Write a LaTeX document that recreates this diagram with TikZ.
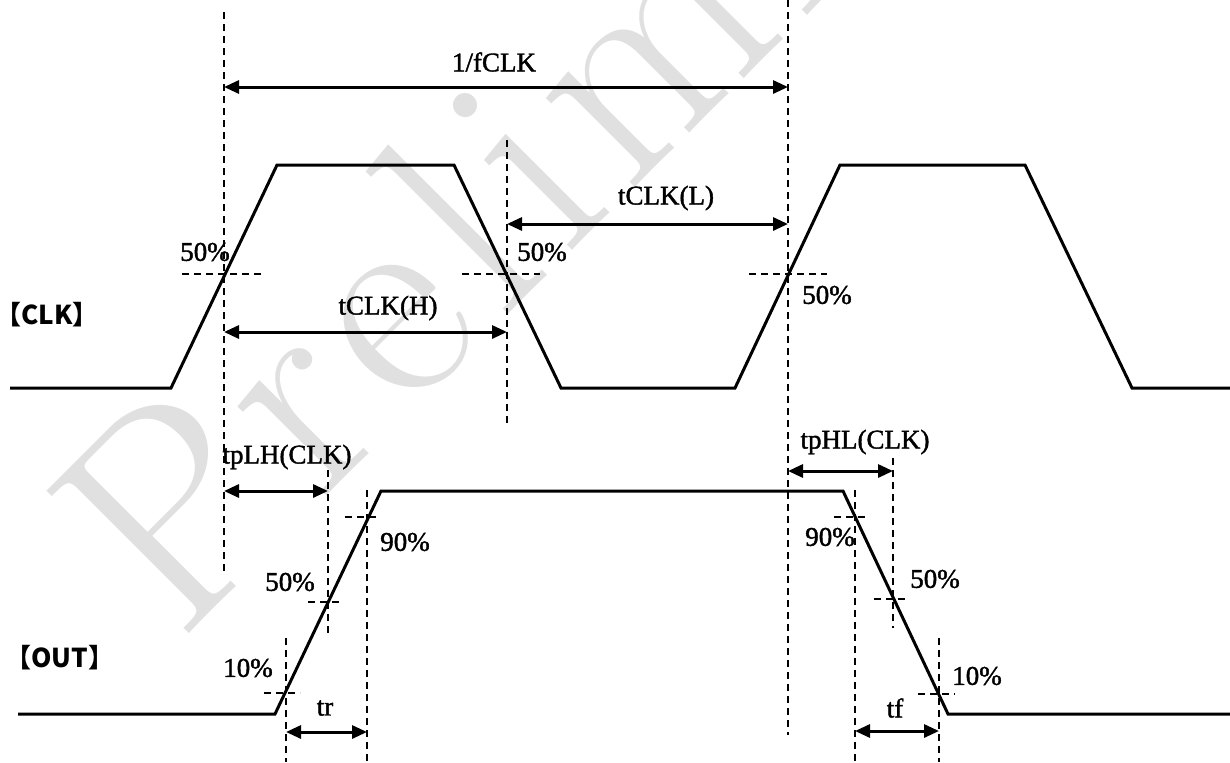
\documentclass[tikz,border=0pt]{standalone}
\usepackage{fontspec}
\usetikzlibrary{arrows.meta}
\newfontfamily\cjkfont{Noto Sans CJK JP}
\newfontfamily\lblfont{Liberation Serif}[FakeBold=1.5]
\newfontfamily\wmfont{Latin Modern Roman}
\definecolor{wmgray}{HTML}{E0E0E0}
\newcommand{\wg}{\kern8pt}
\begin{document}
\begin{tikzpicture}[x=0.5pt,y=-0.5pt,
  wave/.style={line width=1.5pt, line join=miter},
  guide/.style={line width=0.7pt, dash pattern=on 3.5pt off 2.5pt},
  tipa/.tip={Triangle[length=7.5pt,width=6.5pt]},
  dimboth/.style={line width=1.5pt, tipa-tipa},
  lbl/.style={font=\lblfont\fontsize{13.5}{15}\selectfont, inner sep=0pt},
  sig/.style={font=\cjkfont\bfseries\fontsize{13}{15}\selectfont, inner sep=0pt},
  wm/.style={font=\wmfont\fontsize{147.5}{150}\selectfont, text=wmgray, inner sep=0pt}
]
\useasboundingbox (0,0) rectangle (1230,762);
% watermark
\begin{scope}
\clip (0,0) rectangle (1230,762);
\node[wm, rotate=45, anchor=base west] (wmark) at (178,645)
  {P\wg r\wg e\wg l\wg i\wg m\wg i\wg n\wg a\wg r\wg y};
\end{scope}

% CLK waveform
\coordinate (c0) at (10,388);
\coordinate (c1) at (171,388);
\coordinate (c2) at (277,165);
\coordinate (c3) at (454,165);
\coordinate (c4) at (561,388);
\coordinate (c5) at (735,388);
\coordinate (c6) at (840,165);
\coordinate (c7) at (1025,165);
\coordinate (c8) at (1132,388);
\coordinate (c9) at (1230,388);
\draw[wave] (c0) -- (c1) -- (c2) -- (c3) -- (c4) -- (c5) -- (c6) -- (c7) -- (c8) -- (c9);

% OUT waveform
\coordinate (o0) at (18,714);
\coordinate (o1) at (275,714);
\coordinate (o2) at (381,491);
\coordinate (o3) at (843,491);
\coordinate (o4) at (948,714);
\coordinate (o5) at (1230,714);
\draw[wave] (o0) -- (o1) -- (o2) -- (o3) -- (o4) -- (o5);

% CLK guides
\coordinate (v1t) at (224,12);  \coordinate (v1b) at (224,575);
\coordinate (v2t) at (507,140); \coordinate (v2b) at (507,427);
\coordinate (v3t) at (788,0);   \coordinate (v3b) at (788,735);
\draw[guide] (v1t) -- (v1b);
\draw[guide] (v2t) -- (v2b);
\draw[guide] (v3t) -- (v3b);
\coordinate (h1a) at (182,274); \coordinate (h1b) at (262,274);
\coordinate (h2a) at (462,274); \coordinate (h2b) at (540,274);
\coordinate (h3a) at (749,274); \coordinate (h3b) at (827,274);
\draw[guide] (h1a) -- (h1b);
\draw[guide] (h2a) -- (h2b);
\draw[guide] (h3a) -- (h3b);

% OUT guides
\coordinate (r10t) at (286,638); \coordinate (r10b) at (286,762);
\coordinate (r50t) at (328,470); \coordinate (r50b) at (328,633);
\coordinate (r90t) at (367,490); \coordinate (r90b) at (367,762);
\coordinate (f90t) at (855,490); \coordinate (f90b) at (855,762);
\coordinate (f50t) at (893,458); \coordinate (f50b) at (893,628);
\coordinate (f10t) at (939,638); \coordinate (f10b) at (939,762);
\draw[guide] (r10t) -- (r10b);
\draw[guide] (r50t) -- (r50b);
\draw[guide] (r90t) -- (r90b);
\draw[guide] (f90t) -- (f90b);
\draw[guide] (f50t) -- (f50b);
\draw[guide] (f10t) -- (f10b);
\coordinate (hr10a) at (264,693); \coordinate (hr10b) at (300,693);
\coordinate (hr50a) at (308,602); \coordinate (hr50b) at (344,602);
\coordinate (hr90a) at (345,517); \coordinate (hr90b) at (381,517);
\coordinate (hf90a) at (834,517); \coordinate (hf90b) at (870,517);
\coordinate (hf50a) at (874,599); \coordinate (hf50b) at (910,599);
\coordinate (hf10a) at (918,694); \coordinate (hf10b) at (955,694);
\draw[guide] (hr10a) -- (hr10b);
\draw[guide] (hr50a) -- (hr50b);
\draw[guide] (hr90a) -- (hr90b);
\draw[guide] (hf90a) -- (hf90b);
\draw[guide] (hf50a) -- (hf50b);
\draw[guide] (hf10a) -- (hf10b);

% dimension arrows
\coordinate (pa) at (224,87);  \coordinate (pb) at (788,87);
\coordinate (la) at (507,224); \coordinate (lb) at (788,224);
\coordinate (ha) at (224,332); \coordinate (hb) at (507,332);
\coordinate (lha) at (224,491); \coordinate (lhb) at (328,491);
\coordinate (hla) at (788,471); \coordinate (hlb) at (893,471);
\coordinate (tra) at (286,732); \coordinate (trb) at (367,732);
\coordinate (tfa) at (855,731); \coordinate (tfb) at (939,731);
\draw[dimboth] (pa) -- (pb);
\draw[dimboth] (la) -- (lb);
\draw[dimboth] (ha) -- (hb);
\draw[dimboth] (lha) -- (lhb);
\draw[dimboth] (hla) -- (hlb);
\draw[dimboth] (tra) -- (trb);
\draw[dimboth] (tfa) -- (tfb);

% labels
\node[lbl] (tper) at (494,62) {1/fCLK};
\node[lbl] (tlow) at (666,198) {tCLK(L)};
\node[lbl] (thigh) at (388,308) {tCLK(H)};
\node[lbl] (tplh) at (287,457) {tpLH(CLK)};
\node[lbl] (tphl) at (865,442) {tpHL(CLK)};
\node[lbl] (ttr) at (325,708) {tr};
\node[lbl] (ttf) at (895,708) {tf};
\node[lbl] (p1) at (205,252) {50\%};
\node[lbl] (p2) at (542,252) {50\%};
\node[lbl] (p3) at (827,295) {50\%};
\node[lbl] (p4) at (405,542) {90\%};
\node[lbl] (p5) at (290,582) {50\%};
\node[lbl] (p6) at (248,668) {10\%};
\node[lbl] (p7) at (830,537) {90\%};
\node[lbl] (p8) at (935,579) {50\%};
\node[lbl] (p9) at (977,676) {10\%};
\node[sig] (sclk) at (47,315) {【CLK】};
\node[sig] (sout) at (60,658) {【OUT】};
\end{tikzpicture}
\end{document}
